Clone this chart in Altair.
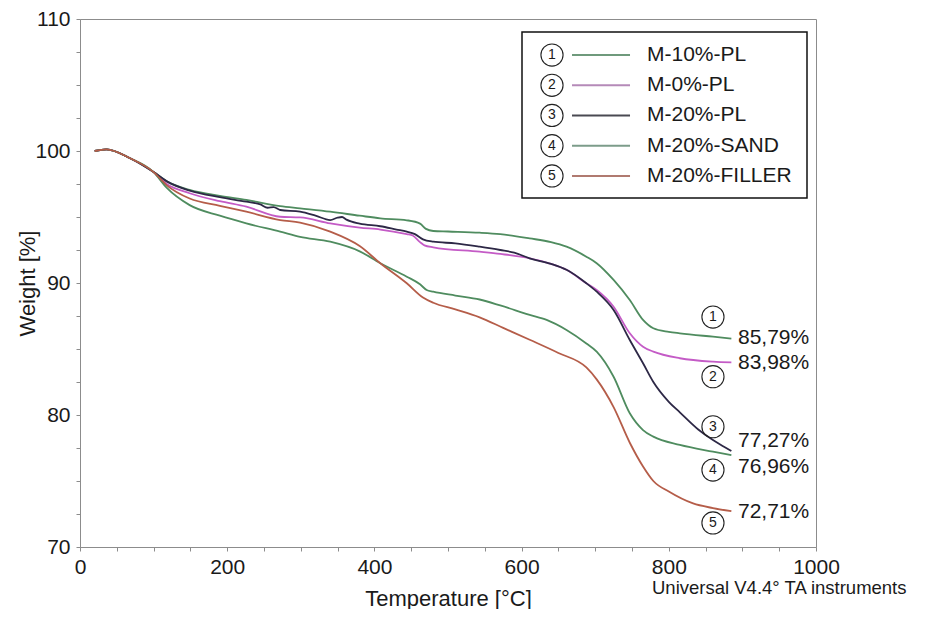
import altair as alt
import pandas as pd

# ---------------- data ----------------
series_names = ["M-10%-PL", "M-0%-PL", "M-20%-PL", "M-20%-SAND", "M-20%-FILLER"]
series_numbers = ["1", "2", "3", "4", "5"]
line_colors = ["#4f8c5f", "#c45bc6", "#2d2846", "#4f8c5f", "#b55d49"]
legend_colors = ["#6f9a7c", "#b58ab8", "#4a4a52", "#7c9c8a", "#b07a70"]

T1 = [20, 36, 68, 100, 118, 149, 190, 226, 272, 299, 340, 380, 408, 444, 462, 470, 480, 500, 543, 571, 611, 640, 661, 688, 702, 725, 747, 765, 779, 800, 815, 860, 885]
W1 = [100.0, 100.13, 99.45, 98.4, 97.7, 97.05, 96.6, 96.29, 95.83, 95.66, 95.4, 95.1, 94.9, 94.75, 94.5, 94.1, 93.94, 93.9, 93.81, 93.7, 93.38, 93.1, 92.75, 91.99, 91.5, 90.23, 88.71, 87.2, 86.57, 86.3, 86.19, 85.93, 85.79]

T2 = [20, 36, 68, 100, 118, 149, 190, 226, 272, 299, 340, 380, 408, 444, 452, 462, 468, 480, 543, 571, 611, 640, 661, 688, 702, 725, 747, 765, 779, 815, 860, 885]
W2 = [100.0, 100.13, 99.45, 98.4, 97.5, 96.8, 96.2, 95.78, 95.02, 94.97, 94.52, 94.2, 94.05, 93.7, 93.6, 93.1, 92.85, 92.7, 92.37, 92.2, 91.87, 91.45, 91.0, 89.98, 89.47, 88.2, 86.19, 85.17, 84.8, 84.3, 84.04, 83.98]

T3 = [20, 36, 68, 100, 118, 149, 190, 226, 245, 255, 263, 272, 299, 320, 340, 350, 356, 362, 380, 408, 430, 444, 455, 466, 480, 510, 543, 571, 590, 611, 640, 661, 688, 702, 725, 747, 765, 779, 800, 815, 840, 860, 875, 885]
W3 = [100.0, 100.13, 99.45, 98.4, 97.7, 97.0, 96.5, 96.16, 95.95, 95.7, 95.75, 95.53, 95.4, 95.1, 94.77, 94.95, 95.0, 94.8, 94.5, 94.3, 94.05, 93.89, 93.7, 93.31, 93.13, 93.0, 92.75, 92.5, 92.3, 91.87, 91.45, 91.0, 89.98, 89.34, 87.95, 85.68, 83.92, 82.5, 81.0, 80.2, 78.9, 78.1, 77.6, 77.27]

T4 = [20, 36, 68, 100, 118, 149, 190, 226, 272, 299, 340, 380, 408, 444, 462, 471, 480, 510, 543, 571, 611, 634, 661, 688, 702, 725, 747, 765, 779, 815, 860, 885]
W4 = [100.0, 100.13, 99.45, 98.4, 97.2, 95.9, 95.1, 94.52, 93.89, 93.5, 93.13, 92.4, 91.5, 90.48, 89.9, 89.47, 89.34, 89.05, 88.75, 88.3, 87.58, 87.2, 86.44, 85.42, 84.8, 82.9, 80.13, 78.86, 78.36, 77.73, 77.22, 76.96]

T5 = [20, 36, 68, 100, 118, 149, 190, 226, 272, 299, 340, 380, 408, 444, 466, 480, 510, 543, 575, 611, 650, 688, 702, 725, 747, 765, 779, 800, 833, 860, 885]
W5 = [100.0, 100.13, 99.45, 98.4, 97.4, 96.4, 95.85, 95.4, 94.77, 94.57, 93.89, 92.8, 91.5, 89.98, 88.9, 88.5, 88.0, 87.4, 86.6, 85.7, 84.7, 83.6, 82.7, 80.6, 77.9, 76.1, 75.0, 74.2, 73.3, 72.95, 72.71]

end_labels = ["85,79%", "83,98%", "77,27%", "76,96%", "72,71%"]
# annotation placement (data units)
end_label_w = [85.83, 83.94, 78.03, 76.06, 72.65]
end_circle_w = [87.42, 82.9, 79.11, 75.83, 71.82]
end_label_t = 894
end_circle_t = 860

x_title = "Temperature [°C]"
y_title = "Weight [%]"
credit = "Universal V4.4° TA instruments"

FONT = "Liberation Sans"
TXT = "#1a1a1a"
FRAME = "#8c8c8c"

# ---------------- tables ----------------
rows = []
for name, ts, ws in zip(series_names, [T1, T2, T3, T4, T5], [W1, W2, W3, W4, W5]):
    for t, w in zip(ts, ws):
        rows.append({"series": name, "T": t, "W": w})
df = pd.DataFrame(rows)

ann = pd.DataFrame({
    "series": series_names,
    "num": series_numbers,
    "label": end_labels,
    "lw": end_label_w,
    "cw": end_circle_w,
    "lt": [end_label_t] * 5,
    "ct": [end_circle_t] * 5,
})

leg = pd.DataFrame({
    "idx": list(range(5)),
    "series": series_names,
    "num": series_numbers,
    "lcolor": legend_colors,
})

xscale = alt.Scale(domain=[0, 1000], nice=False)
yscale = alt.Scale(domain=[70, 110], nice=False)

x_axis = alt.Axis(
    values=list(range(0, 1001, 50)),
    labelExpr="datum.value % 200 == 0 ? '' + datum.value : ''",
    labelOverlap=False, labelFlush=False, labelPadding=5,
    title=x_title, titleX=368, titleY=51, titleBaseline="middle", titleAlign="center",
)
y_axis = alt.Axis(
    values=[70 + 2.5 * i for i in range(17)],
    labelExpr="datum.value % 10 == 0 ? '' + datum.value : ''",
    labelOverlap=False, labelFlush=False, labelPadding=6,
    title=y_title, titleX=-53, titleY=264, titleAngle=-90,
    titleBaseline="middle", titleAlign="center",
)

X = lambda f: alt.X(f, scale=xscale, axis=x_axis)
Y = lambda f: alt.Y(f, scale=yscale, axis=y_axis)

lines = alt.Chart(df).mark_line(strokeWidth=1.8, interpolate="monotone").encode(
    x=X("T:Q"), y=Y("W:Q"),
    color=alt.Color("series:N", scale=alt.Scale(domain=series_names, range=line_colors), legend=None),
    detail="series:N",
)

end_text = alt.Chart(ann).mark_text(align="left", baseline="middle", fontSize=21, font=FONT, color=TXT).encode(
    x=X("lt:Q"), y=Y("lw:Q"), text="label:N"
)
end_circ = alt.Chart(ann).mark_point(shape="circle", size=490, filled=False, color="#222222", strokeWidth=1.1, opacity=1).encode(
    x=X("ct:Q"), y=Y("cw:Q")
)
end_num = alt.Chart(ann).mark_text(align="center", baseline="middle", fontSize=14, font=FONT, color=TXT).encode(
    x=X("ct:Q"), y=Y("cw:Q"), text="num:N"
)

# legend box (pixel layout inside plot area)
box = alt.Chart(pd.DataFrame({"b": [0]})).mark_rect(fill="white", stroke="#111111", strokeWidth=1.5).encode(
    x=alt.value(442), x2=alt.value(727), y=alt.value(13), y2=alt.value(179)
)
leg_base = alt.Chart(leg).transform_calculate(
    ly="107.27 - datum.idx * 2.29", cx="641.3", l1="668.5", l2="747.3", tx="770.4"
)
leg_circ = leg_base.mark_point(shape="circle", size=490, filled=False, color="#222222", strokeWidth=1.1, opacity=1).encode(
    x=X("cx:Q"), y=Y("ly:Q")
)
leg_num = leg_base.mark_text(align="center", baseline="middle", fontSize=14, font=FONT, color=TXT).encode(
    x=X("cx:Q"), y=Y("ly:Q"), text="num:N"
)
leg_line = leg_base.mark_rule(strokeWidth=2).encode(
    x=X("l1:Q"), x2="l2:Q", y=Y("ly:Q"),
    color=alt.Color("lcolor:N", scale=None),
)
leg_text = leg_base.mark_text(align="left", baseline="middle", fontSize=21, font=FONT, color=TXT).encode(
    x=X("tx:Q"), y=Y("ly:Q"), text="series:N"
)

credit_txt = alt.Chart(pd.DataFrame({"t": [credit]})).mark_text(
    align="left", baseline="middle", fontSize=18.5, font=FONT, color=TXT
).encode(x=alt.value(572), y=alt.value(569), text="t:N")

chart = alt.layer(
    lines, end_text, end_circ, end_num, box, leg_circ, leg_num, leg_line, leg_text, credit_txt
).properties(
    width=736, height=528,
    autosize=alt.AutoSizeParams(type="none"),
    padding={"left": 72, "top": 11, "right": 101, "bottom": 62},
).configure_view(
    stroke=FRAME, strokeWidth=1
).configure_axis(
    grid=False,
    labelFont=FONT, labelFontSize=21, labelColor=TXT,
    titleFont=FONT, titleFontSize=22, titleFontWeight="normal", titleColor=TXT,
    domainColor=FRAME, tickColor=FRAME, tickSize=4,
)

chart.save("out.html", embed_options={"renderer": "svg", "actions": False})
